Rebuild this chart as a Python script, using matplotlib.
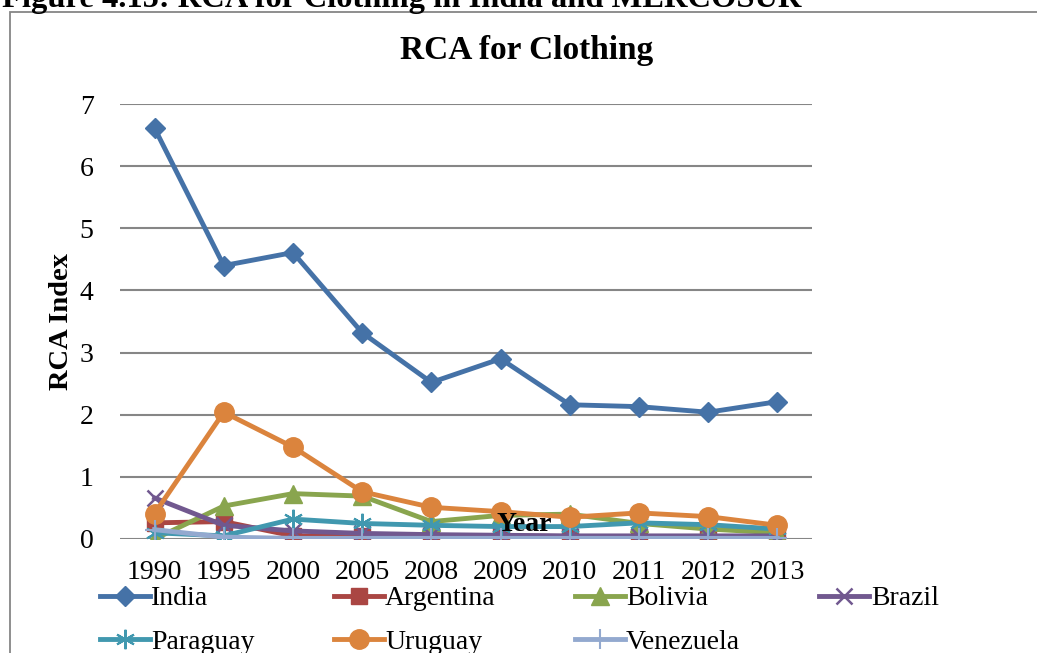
import matplotlib.pyplot as plt
from matplotlib.patches import Rectangle

plt.rcParams['font.family'] = ['Liberation Serif', 'DejaVu Serif']

years = ["1990", "1995", "2000", "2005", "2008", "2009", "2010", "2011", "2012", "2013"]

india = [6.61, 4.40, 4.61, 3.32, 2.52, 2.90, 2.16, 2.13, 2.04, 2.21]
argentina = [0.26, 0.28, 0.05, 0.05, 0.05, 0.05, 0.04, 0.04, 0.04, 0.04]
bolivia = [0.00, 0.53, 0.73, 0.69, 0.28, 0.38, 0.40, 0.25, 0.16, 0.10]
brazil = [0.66, 0.22, 0.13, 0.09, 0.07, 0.06, 0.05, 0.05, 0.05, 0.05]
paraguay = [0.10, 0.05, 0.32, 0.25, 0.22, 0.20, 0.20, 0.26, 0.23, 0.16]
uruguay = [0.41, 2.04, 1.48, 0.76, 0.51, 0.44, 0.35, 0.42, 0.36, 0.22]
venezuela = [0.15, 0.03, 0.01, 0.01, 0.01, 0.01, 0.01, 0.01, 0.01, 0.01]

fig = plt.figure(figsize=(10.37, 6.53), dpi=100)
ax = fig.add_axes([0.1157, 0.1746, 0.6673, 0.6661])

x = range(len(years))
lw = 3.5
l_india, = ax.plot(x, india, color="#4572A7", lw=lw, marker="D", ms=10.5, label="India")
l_arg, = ax.plot(x, argentina, color="#AA4643", lw=lw, marker="s", ms=12, label="Argentina")
l_bol, = ax.plot(x, bolivia, color="#89A54E", lw=lw, marker="^", ms=13, label="Bolivia")
l_bra, = ax.plot(x, brazil, color="#71588F", lw=lw, marker="x", ms=12, mew=1.8, label="Brazil")
l_par, = ax.plot(x, paraguay, color="#4198AF", lw=lw, marker=(6, 2, 0), ms=14, mew=1.5, label="Paraguay")
l_uru, = ax.plot(x, uruguay, color="#DB843D", lw=lw, marker="o", ms=14, label="Uruguay")
l_ven, = ax.plot(x, venezuela, color="#93A9CF", lw=lw, marker="+", ms=14, mew=1.5, label="Venezuela")

ax.set_xlim(-0.5, len(years) - 0.5)
ax.set_ylim(0, 7)
ax.set_yticks(range(0, 8))
ax.set_xticks(list(x))
ax.set_xticklabels(years)
ax.tick_params(length=0, labelsize=20)
ax.tick_params(axis="y", pad=19)
ax.tick_params(axis="x", pad=15)
for s in ax.spines.values():
    s.set_visible(False)
ax.grid(axis="y", color="#868686", lw=1.5)
ax.set_axisbelow(True)

fig.text(527 / 1037, 1 - 50 / 653, "RCA for Clothing", fontsize=24, fontweight="bold",
         ha="center", va="center")
fig.text(62 / 1037, 1 - 322 / 653, "RCA Index", fontsize=20.5, fontweight="bold",
         rotation=90, ha="center", va="center")
fig.text(0.506, 0.197, "Year", fontsize=20, fontweight="bold", ha="center", va="center")

handles = [l_india, l_par, l_arg, l_uru, l_bol, l_ven, l_bra]
fig.legend(handles=handles, labels=[h.get_label() for h in handles], ncol=4,
           loc="upper left", bbox_to_anchor=(0.096, 1 - 586 / 653), frameon=False,
           fontsize=20, handlelength=1.8, handletextpad=0.05, columnspacing=2.85,
           labelspacing=0.64, borderpad=0, borderaxespad=0)

fig.text(0.002, 1 - 7 / 653, "Figure 4.15: RCA for Clothing in India and MERCOSUR",
         fontsize=23.4, fontweight="bold", ha="left", va="baseline")
fig.patches.append(Rectangle((10 / 1037, -0.1), 1.2, 1 - 12 / 653 + 0.1, transform=fig.transFigure,
                             fill=False, edgecolor="#868686", lw=1.3))

fig.savefig("out.png", dpi=100)
